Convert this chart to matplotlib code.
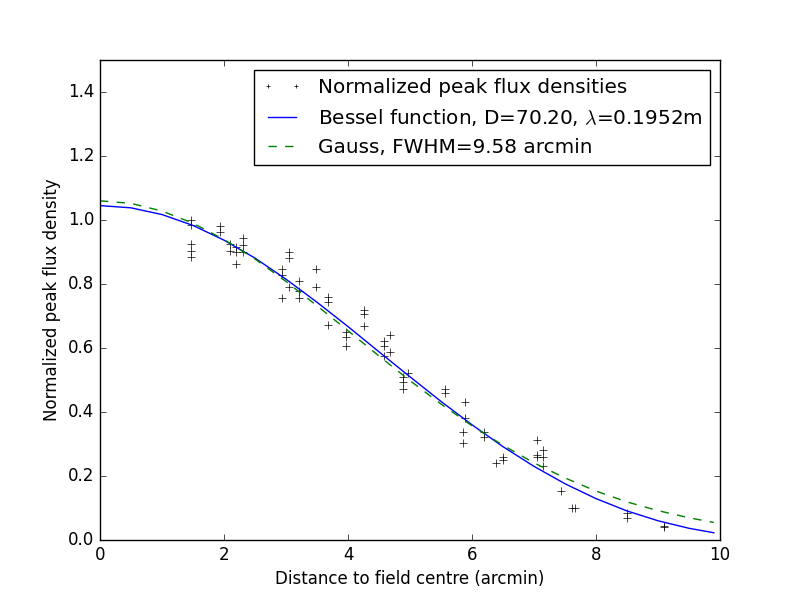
import matplotlib
matplotlib.use("Agg")
import matplotlib.pyplot as plt

plt.style.use('classic')

# measured peak flux densities (distance in arcmin, normalized flux)
dist = [1.47, 1.47, 1.47, 1.47, 1.47,
        1.94, 1.94,
        2.09, 2.09,
        2.20, 2.20, 2.20,
        2.31, 2.31, 2.31,
        2.93, 2.93, 2.93,
        3.05, 3.05, 3.05,
        3.21, 3.21, 3.21,
        3.49, 3.49,
        3.67, 3.67, 3.67,
        3.96, 3.96, 3.96,
        4.25, 4.25, 4.25,
        4.58, 4.58, 4.58,
        4.68, 4.68,
        4.89, 4.89, 4.89,
        4.97,
        5.57, 5.57,
        5.88, 5.88,
        5.86, 5.86,
        6.19, 6.19,
        6.38,
        6.50, 6.50,
        7.05, 7.05, 7.05,
        7.14, 7.14, 7.14,
        7.44,
        7.61, 7.66,
        8.50, 8.50,
        9.10, 9.10]
flux = [1.000, 0.984, 0.924, 0.903, 0.883,
        0.981, 0.961,
        0.924, 0.902,
        0.915, 0.901, 0.864,
        0.943, 0.922, 0.901,
        0.847, 0.828, 0.757,
        0.900, 0.880, 0.790,
        0.809, 0.779, 0.757,
        0.847, 0.790,
        0.758, 0.743, 0.672,
        0.651, 0.635, 0.607,
        0.719, 0.705, 0.670,
        0.623, 0.606, 0.575,
        0.640, 0.588,
        0.510, 0.495, 0.471,
        0.521,
        0.473, 0.460,
        0.432, 0.382,
        0.336, 0.304,
        0.339, 0.323,
        0.240,
        0.260, 0.250,
        0.3125, 0.266, 0.258,
        0.280, 0.258, 0.231,
        0.153,
        0.100, 0.100,
        0.083, 0.068,
        0.044, 0.040]

# model curves
curve_x = [0.0, 0.5, 1.0, 1.5, 2.0, 2.5, 3.0, 3.5, 4.0, 4.5, 5.0,
           5.5, 6.0, 6.5, 7.0, 7.5, 8.0, 8.5, 9.0, 9.5, 9.9]
bessel = [1.045, 1.038, 1.017, 0.983, 0.937, 0.881, 0.815, 0.743, 0.667, 0.588, 0.510,
          0.433, 0.360, 0.2916, 0.2301, 0.1758, 0.1293, 0.0908, 0.0601, 0.0366, 0.0227]
gauss = [1.060, 1.052, 1.028, 0.990, 0.939, 0.878, 0.808, 0.732, 0.654, 0.575, 0.498,
         0.425, 0.357, 0.296, 0.241, 0.194, 0.153, 0.119, 0.0918, 0.0694, 0.0549]

fig = plt.figure(figsize=(8, 6))
ax = fig.add_subplot(111)

ax.plot(dist, flux, 'k+', label='Normalized peak flux densities')
ax.plot(curve_x, bessel, 'b-', label=r'Bessel function, D=70.20, $\lambda$=0.1952m')
ax.plot(curve_x, gauss, 'g--', label='Gauss, FWHM=9.58 arcmin')

ax.set_xlim(0, 10)
ax.set_ylim(0, 1.5)
ax.set_xlabel('Distance to field centre (arcmin)')
ax.set_ylabel('Normalized peak flux density')

ax.legend(loc='upper right', markerscale=0.6, handlelength=2.0)

fig.savefig('out.png', dpi=100)
